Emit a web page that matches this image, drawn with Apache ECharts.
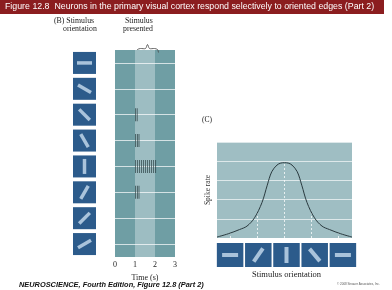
<!DOCTYPE html>
<html>
<head>
<meta charset="utf-8">
<script src="https://cdn.jsdelivr.net/npm/echarts@6/dist/echarts.min.js"></script>
<style>
  html, body { margin: 0; padding: 0; background: #fff; }
  #chart { width: 392px; height: 290px; }
</style>
</head>
<body>
<div id="chart"></div>
<script>
// panel B: stimulus orientation per row (deg, counter-clockwise from horizontal)
var rowOrientations = [0, -30, -45, -60, 90, 60, 45, 30];
// spike times (s) per row
var spikeTimes = [
  [],
  [],
  [1.03, 1.11],
  [1.03, 1.12, 1.2],
  [1.03, 1.13, 1.23, 1.33, 1.43, 1.53, 1.63, 1.73, 1.83, 1.93, 2.03],
  [1.03, 1.12, 1.2],
  [],
  []
];
var stimulusWindow = [1, 2];

// panel C: tuning curve
var orientDeg = [-90, -75, -60, -50, -40, -30, -23, -17, -10, -5, 0, 5, 10, 17, 23, 30, 40, 50, 60, 75, 90];
var spikeRate = [0.05, 0.22, 0.44, 0.62, 1.05, 1.85, 2.75, 3.45, 3.8, 3.9, 3.92, 3.9, 3.8, 3.45, 2.75, 1.85, 1.05, 0.62, 0.44, 0.22, 0.05];
var dropX = [-72, -36, 0, 36, 72];
var dropY = [0.24, 1.3, 3.92, 1.3, 0.24];
var bottomOrientations = [0, 55, 90, -50, 0];

var iconBlue = '#2c5b8b';
var barBlue = '#a9c3db';
var serif = '"Liberation Serif", "DejaVu Serif", serif';

var chart = echarts.init(document.getElementById('chart'));

function iconRenderer(w, h, len, thick) {
  return function (params, api) {
    var c = api.coord([api.value(0), api.value(1)]);
    var a = api.value(2) * Math.PI / 180;
    return {
      type: 'group',
      children: [{
        type: 'rect',
        shape: { x: c[0] - w / 2, y: c[1] - h / 2, width: w, height: h },
        style: { fill: iconBlue }
      }, {
        type: 'rect',
        x: c[0], y: c[1], rotation: a,
        shape: { x: -len / 2, y: -thick / 2, width: len, height: thick },
        style: { fill: barBlue }
      }]
    };
  };
}

var spikeData = [];
for (var r = 0; r < spikeTimes.length; r++) {
  for (var k = 0; k < spikeTimes[r].length; k++) {
    spikeData.push([spikeTimes[r][k], r + 0.5]);
  }
}
var leftIcons = rowOrientations.map(function (o, i) { return [0.5, i + 0.5, o]; });
var bottomIcons = bottomOrientations.map(function (o, i) { return [dropX[i], 0.5, o]; });
var curve = orientDeg.map(function (d, i) { return [d, spikeRate[i]]; });

var option = {
  animation: false,
  backgroundColor: '#fff',
  grid: [
    { left: 115, top: 50, width: 60, height: 207, show: true, backgroundColor: '#6f9ea4', borderWidth: 0 },
    { left: 217, top: 142, width: 135, height: 96, show: true, backgroundColor: '#9fbec3', borderWidth: 0 },
    { left: 216, top: 243, width: 141, height: 24 },
    { left: 73, top: 50, width: 23, height: 207 }
  ],
  xAxis: [
    {
      gridIndex: 0, type: 'value', min: 0, max: 3, interval: 1,
      axisLine: { show: false }, axisTick: { show: false }, splitLine: { show: false },
      axisLabel: { fontFamily: serif, fontSize: 8, color: '#222', margin: 4 },
      name: 'Time (s)', nameLocation: 'middle', nameGap: 11,
      nameTextStyle: { fontFamily: serif, fontSize: 8, color: '#222' }
    },
    {
      gridIndex: 1, type: 'value', min: -90, max: 90, show: false
    },
    {
      gridIndex: 2, type: 'value', min: -90, max: 90,
      axisLine: { show: false }, axisTick: { show: false }, splitLine: { show: false }, axisLabel: { show: false },
      name: 'Stimulus orientation', nameLocation: 'middle', nameGap: 3,
      nameTextStyle: { fontFamily: serif, fontSize: 8.5, color: '#222' }
    },
    { gridIndex: 3, type: 'value', min: 0, max: 1, show: false }
  ],
  yAxis: [
    { gridIndex: 0, type: 'value', min: 0, max: 8, inverse: true, show: false },
    {
      gridIndex: 1, type: 'value', min: 0, max: 5, interval: 1,
      axisLine: { show: false }, axisTick: { show: false }, axisLabel: { show: false },
      splitLine: { lineStyle: { color: 'rgba(255,255,255,0.65)', width: 1 } },
      name: 'Spike rate', nameLocation: 'middle', nameGap: 5,
      nameTextStyle: { fontFamily: serif, fontSize: 7.5, color: '#333' }
    },
    { gridIndex: 2, type: 'value', min: 0, max: 1, show: false },
    { gridIndex: 3, type: 'value', min: 0, max: 8, inverse: true, show: false }
  ],
  series: [
    {
      type: 'scatter', xAxisIndex: 0, yAxisIndex: 0, z: 5,
      symbol: 'rect', symbolSize: [0.9, 13],
      itemStyle: { color: '#2a3f43' },
      data: spikeData,
      markArea: {
        silent: true,
        itemStyle: { color: '#9dbdc2' },
        data: [[{ xAxis: stimulusWindow[0] }, { xAxis: stimulusWindow[1] }]]
      },
      markLine: {
        silent: true, symbol: 'none', label: { show: false },
        lineStyle: { color: 'rgba(255,255,255,0.7)', width: 1, type: 'solid' },
        data: rowOrientations.map(function (o, i) { return { yAxis: i + 0.5 }; })
      }
    },
    {
      type: 'line', xAxisIndex: 1, yAxisIndex: 1, z: 5,
      data: curve, smooth: 0.35, showSymbol: false,
      lineStyle: { color: '#2a3a3f', width: 1 },
      markLine: {
        silent: true, symbol: 'none', label: { show: false },
        lineStyle: { color: 'rgba(255,255,255,0.75)', width: 1, type: [2, 2] },
        data: dropX.map(function (x, i) { return [{ coord: [x, 0] }, { coord: [x, dropY[i]] }]; })
      }
    },
    {
      type: 'custom', xAxisIndex: 2, yAxisIndex: 2,
      renderItem: iconRenderer(26.5, 24, 16, 4),
      data: bottomIcons
    },
    {
      type: 'custom', xAxisIndex: 3, yAxisIndex: 3,
      renderItem: iconRenderer(23, 22, 15, 3.5),
      data: leftIcons
    }
  ],
  graphic: [
    { type: 'rect', left: 0, top: 0, shape: { width: 384, height: 14 }, style: { fill: '#8b1d1f' } },
    { type: 'text', left: 5, top: 2.5, style: { text: 'Figure 12.8  Neurons in the primary visual cortex respond selectively to oriented edges (Part 2)', fill: '#fff', font: '8.8px "Liberation Sans", Arial, sans-serif' } },
    { type: 'text', left: 54, top: 17, style: { text: '(B) Stimulus', fill: '#222', font: '7.8px ' + serif } },
    { type: 'text', left: 63, top: 25, style: { text: 'orientation', fill: '#222', font: '7.8px ' + serif } },
    { type: 'text', left: 125, top: 17, style: { text: 'Stimulus', fill: '#222', font: '7.8px ' + serif } },
    { type: 'text', left: 123, top: 25, style: { text: 'presented', fill: '#222', font: '7.8px ' + serif } },
    {
      type: 'polyline', left: 134, top: 42,
      shape: { points: [[0, 8], [1, 5], [4, 4], [9, 4], [11, 0], [13, 4], [18, 4], [21, 5], [22, 8]], smooth: 0.3 },
      style: { fill: 'none', stroke: '#444', lineWidth: 0.8 }
    },
    { type: 'text', left: 202, top: 116, style: { text: '(C)', fill: '#222', font: '7.5px ' + serif } },
    { type: 'text', left: 19, top: 281, style: { text: 'NEUROSCIENCE, Fourth Edition, Figure 12.8 (Part 2)', fill: '#111', font: 'italic bold 7.4px "Liberation Sans", Arial, sans-serif' } },
    { type: 'text', left: 337, top: 283, style: { text: '\u00a9 2008 Sinauer Associates, Inc.', fill: '#555', font: '3px "Liberation Sans", Arial, sans-serif' } }
  ]
};

chart.setOption(option);
window.addEventListener('resize', function () { chart.resize(); });
</script>
</body>
</html>
